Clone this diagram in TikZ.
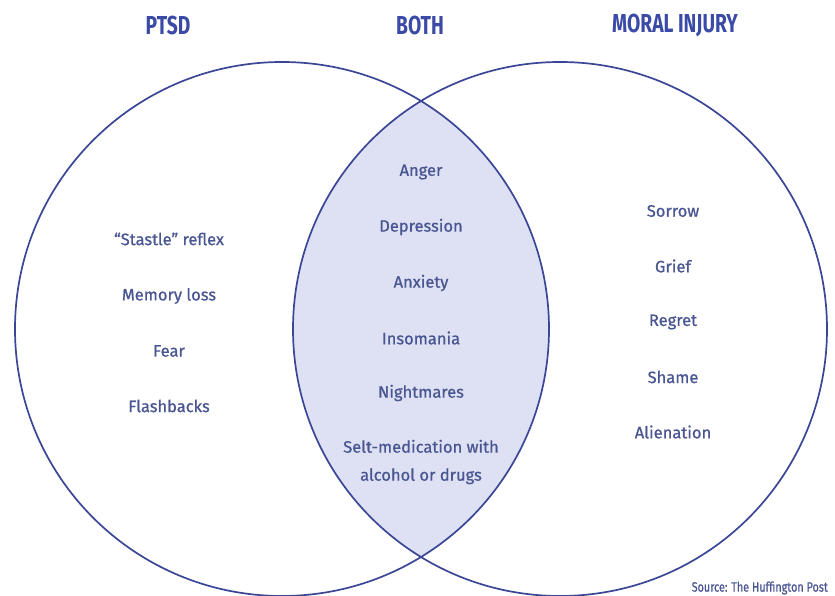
\documentclass[tikz,border=0pt]{standalone}
\usepackage{fontspec}
\setmainfont{Fira Sans}
\newfontfamily\itemfont{Fira Sans}[FakeBold=0.8]
\definecolor{ring}{HTML}{3B4796}
\definecolor{lensfill}{HTML}{DDE1F3}
\definecolor{headblue}{HTML}{3A4AA6}
\definecolor{itemblue}{HTML}{4A5691}
\tikzset{
  ringline/.style={draw=ring, line width=1.7pt},
  heading/.style={text=headblue, font=\fontsize{26}{26}\selectfont\bfseries, inner sep=0pt},
  item/.style={text=itemblue, font=\itemfont\fontsize{16.5}{28}\selectfont, inner sep=0pt, align=center},
  source/.style={text=itemblue, font=\itemfont\fontsize{13.5}{13.5}\selectfont, inner sep=0pt}
}
\newcommand{\narrow}[1]{\scalebox{0.74}[1]{#1}}
\begin{document}
\begin{tikzpicture}[x=1pt,y=-1pt]
\useasboundingbox[fill=white] (0,0) rectangle (835,596);
\coordinate (cl) at (282,329);
\coordinate (cr) at (560,329);
% shaded overlap
\begin{scope}
  \clip (cl) circle[radius=267pt];
  \fill[lensfill] (cr) circle[radius=267pt];
\end{scope}
\draw[ringline] (cl) circle[radius=267pt];
\draw[ringline] (cr) circle[radius=267pt];
% headings
\node[heading] (hptsd) at (168,25) {\narrow{PTSD}};
\node[heading] (hboth) at (420,25) {\narrow{BOTH}};
\node[heading] (hmoral) at (675,25) {\narrow{MORAL INJURY}};
% PTSD only
\node[item] (startle) at (169,239) {“Stastle” reflex};
\node[item] (memory) at (169,296) {Memory loss};
\node[item] (fear) at (169,351) {Fear};
\node[item] (flash) at (169,406) {Flashbacks};
% both
\node[item] (anger) at (421,172) {Anger};
\node[item] (depr) at (421,227) {Depression};
\node[item] (anx) at (421,283) {Anxiety};
\node[item] (insom) at (421,338) {Insomania};
\node[item] (night) at (421,393) {Nightmares};
\node[item] (selfmed) at (421,462) {Selt-medication with\\alcohol or drugs};
% moral injury only
\node[item] (sorrow) at (673,211) {Sorrow};
\node[item] (grief) at (673,266) {Grief};
\node[item] (regret) at (673,322) {Regret};
\node[item] (shame) at (673,377) {Shame};
\node[item] (alien) at (673,432) {Alienation};
% credit
\node[source, anchor=east] (credit) at (828,588) {\scalebox{0.8}[1]{Source: The Huffington Post}};
\end{tikzpicture}
\end{document}
